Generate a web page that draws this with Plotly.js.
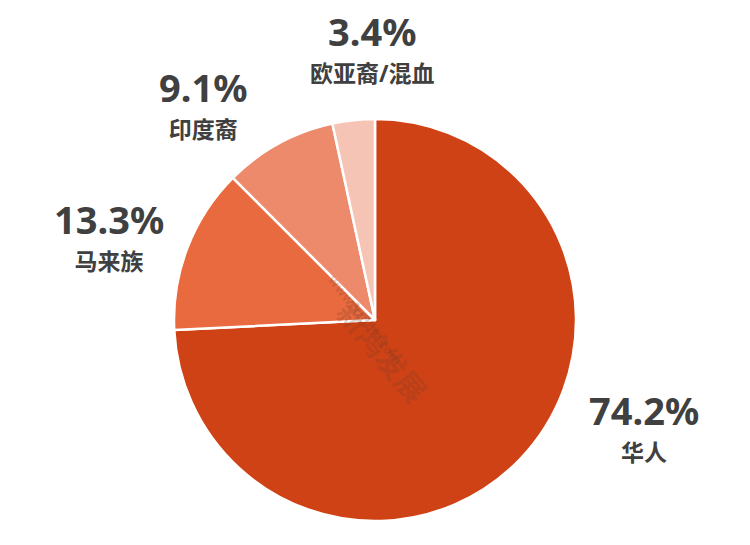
<!DOCTYPE html>
<html>
<head>
<meta charset="utf-8">
<script src="https://cdn.plot.ly/plotly-3.0.1.min.js"></script>
<style>html,body{margin:0;padding:0;background:#fff;}#chart{width:750px;height:545px;}</style>
</head>
<body>
<div id="chart"></div>
<script>
// Data
const categories = ['华人', '马来族', '印度裔', '欧亚裔/混血'];
const shares = [74.2, 13.3, 9.1, 3.4];
const percentLabels = ['74.2%', '13.3%', '9.1%', '3.4%'];
const sliceColors = ['#CF4215', '#E96A3F', '#EE8A6C', '#F6C4B4'];

// Label centre positions (pixels in the 750x545 canvas)
const labelPos = [[644, 426], [109, 235], [203, 103], [372, 47]];

const W = 750, H = 545;
const px = x => x / W;
const py = y => 1 - y / H;

const annotations = [];
categories.forEach((c, i) => {
  const p = labelPos[i];
  annotations.push({
    text: '<span style="font-size:38px">' + percentLabels[i] + '</span><br>' +
          '<span style="font-size:23px">' + c + '</span>',
    xref: 'paper', yref: 'paper', x: px(p[0]), y: py(p[1]),
    xanchor: 'center', yanchor: 'middle', align: 'center', showarrow: false, borderpad: 0,
    font: {family: 'Noto Sans, Noto Sans CJK SC, sans-serif', size: 28, color: '#404040', weight: 'bold'}
  });
});
// watermark
annotations.push({
  text: '新鸿发展', xref: 'paper', yref: 'paper', x: px(383), y: py(351),
  textangle: 50, showarrow: false,
  font: {family: 'Noto Sans CJK SC, sans-serif', size: 30, color: 'rgba(110,60,40,0.22)', weight: 'bold'}
});
annotations.push({
  text: 'www.xzdhfz.com', xref: 'paper', yref: 'paper', x: px(365), y: py(372),
  textangle: 52, showarrow: false,
  font: {family: 'Noto Sans, sans-serif', size: 13, color: 'rgba(110,60,40,0.22)', weight: 'bold'}
});

const trace = {
  type: 'pie',
  labels: categories,
  values: shares,
  sort: false,
  direction: 'clockwise',
  rotation: 0,
  marker: {colors: sliceColors, line: {color: '#ffffff', width: 2.5}},
  textinfo: 'none',
  hoverinfo: 'label+percent',
  domain: {x: [174 / W, 576 / W], y: [(H - 521) / H, (H - 119) / H]},
  showlegend: false
};

const layout = {
  width: W, height: H,
  margin: {l: 0, r: 0, t: 0, b: 0},
  paper_bgcolor: '#ffffff',
  plot_bgcolor: '#ffffff',
  showlegend: false,
  annotations: annotations
};

Plotly.newPlot('chart', [trace], layout, {displayModeBar: false, staticPlot: true});
</script>
</body>
</html>
